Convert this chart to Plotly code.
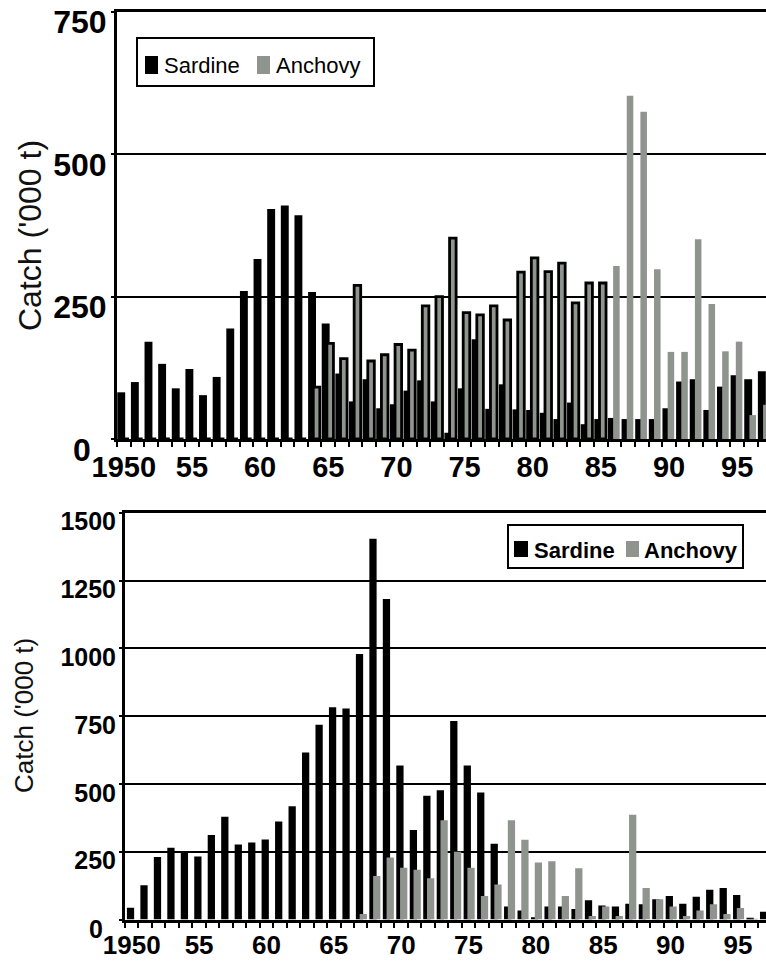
import plotly.graph_objects as go

# ---------------- data (thousand tonnes) ----------------
years = list(range(1950, 1998))

sa_sardine = [82, 100, 171, 132, 89, 123, 77, 109, 194, 260,
              316, 404, 410, 393, 258, 203, 115, 66, 105, 54,
              61, 85, 103, 66, 11, 89, 175, 53, 96, 52,
              51, 46, 35, 64, 26, 35, 37, 35, 35, 35,
              54, 101, 105, 51, 92, 112, 105, 119]
sa_anchovy = [0, 0, 0, 0, 0, 0, 0, 0, 0, 0,
              0, 0, 0, 0, 91, 168, 141, 270, 137, 148,
              166, 156, 234, 250, 353, 222, 218, 234, 209, 293,
              318, 294, 309, 239, 274, 274, 304, 603, 575, 298,
              153, 153, 351, 237, 154, 171, 42, 60]

nam_sardine = [43, 126, 230, 265, 252, 232, 312, 379, 277, 284,
               295, 361, 418, 616, 718, 783, 778, 979, 1404, 1182,
               568, 330, 456, 477, 732, 568, 468, 279, 48, 33,
               8, 48, 48, 39, 71, 52, 48, 58, 56, 75,
               87, 58, 84, 110, 116, 90, 4, 29]
nam_anchovy = [0, 0, 0, 0, 0, 0, 0, 0, 0, 0,
               0, 0, 0, 0, 0, 0, 0, 20, 160, 229,
               191, 183, 152, 366, 250, 191, 87, 129, 366, 294,
               210, 215, 87, 189, 13, 48, 13, 386, 116, 75,
               48, 13, 33, 56, 20, 42, 2, 0]

tick_years = [1950, 1955, 1960, 1965, 1970, 1975, 1980, 1985, 1990, 1995]
tick_text = ["1950", "55", "60", "65", "70", "75", "80", "85", "90", "95"]
top_yticks = [0, 250, 500, 750]
top_ytext = ["", "250", "500", "750"]          # the "0" is set a little further left
bot_yticks = [0, 250, 500, 750, 1000, 1250, 1500]
bot_ytext = ["", "250", "500", "750", "1000", "1250", "1500"]
zero_text = "0"
series_names = ["Sardine", "Anchovy"]
y_title = "Catch ('000 t)"

# ---------------- styling ----------------
W, H = 766, 964
BLACK = "#000000"
GRAY = "#8f948f"
NUM_FONT = "Liberation Sans, Arial, sans-serif"
TXT_FONT = "Liberation Sans, Arial, sans-serif"

# in the scan, top-panel anchovy bars up to 1985 appear black-edged
sa_anch_edge_w = [2.8 if y <= 1985 else 0 for y in years]


def px(x):
    return x / W


def py(y):
    return 1 - y / H


fig = go.Figure()
fig.add_trace(go.Bar(x=years, y=sa_sardine, name=series_names[0], xaxis="x", yaxis="y",
                     offset=-0.48, width=0.58, showlegend=False,
                     marker=dict(color=BLACK, line=dict(width=0))))
fig.add_trace(go.Bar(x=years, y=sa_anchovy, name=series_names[1], xaxis="x", yaxis="y",
                     offset=-0.1, width=0.48, showlegend=False,
                     marker=dict(color=GRAY, line=dict(color=BLACK, width=sa_anch_edge_w))))
fig.add_trace(go.Bar(x=years, y=nam_sardine, name=series_names[0], xaxis="x2", yaxis="y2",
                     offset=-0.36, width=0.54, showlegend=False,
                     marker=dict(color=BLACK, line=dict(width=0))))
fig.add_trace(go.Bar(x=years, y=nam_anchovy, name=series_names[1], xaxis="x2", yaxis="y2",
                     offset=-0.08, width=0.54, showlegend=False,
                     marker=dict(color=GRAY, line=dict(width=0))))


def xaxis_cfg(left_px, anchor, fsize, standoff, ppy):
    return dict(domain=[left_px / W, 1], anchor=anchor, automargin=False,
                range=[1949.5, 1949.5 + (W - left_px) / ppy],
                tickmode="array", tickvals=tick_years, ticktext=tick_text,
                ticks="", showgrid=False, zeroline=False,
                showline=True, linecolor=BLACK, linewidth=3, mirror=True,
                tickfont=dict(family=NUM_FONT, size=fsize, color=BLACK, weight="bold"),
                ticklabelstandoff=standoff,
                minor=dict(ticks="outside", tick0=1949.5, dtick=1, ticklen=5,
                           tickwidth=2, tickcolor=BLACK, showgrid=False))


def yaxis_cfg(dom, anchor, rng, vals, text, fsize, shift):
    return dict(domain=dom, anchor=anchor, range=rng, automargin=False,
                tickmode="array", tickvals=vals, ticktext=text,
                showgrid=True, gridcolor=BLACK, gridwidth=2, zeroline=False,
                showline=True, linecolor=BLACK, linewidth=3,
                ticks="outside", ticklen=3, tickwidth=2, tickcolor=BLACK,
                ticklabelshift=shift, ticklabelstandoff=-2,
                tickfont=dict(family=NUM_FONT, size=fsize, color=BLACK, weight="bold"))


shapes = []
annotations = []


def add_legend(box, sq_y, items, fsize, weight):
    x0, y0, x1, y1 = box
    shapes.append(dict(type="rect", xref="paper", yref="paper",
                       x0=px(x0), x1=px(x1), y0=py(y1), y1=py(y0),
                       line=dict(color=BLACK, width=2), fillcolor="white", layer="above"))
    for (sx0, sx1, tx, name, col) in items:
        shapes.append(dict(type="rect", xref="paper", yref="paper",
                           x0=px(sx0), x1=px(sx1), y0=py(sq_y[1]), y1=py(sq_y[0]),
                           line=dict(width=0), fillcolor=col, layer="above"))
        annotations.append(dict(text=name, xref="paper", yref="paper",
                                x=px(tx), y=py((sq_y[0] + sq_y[1]) / 2 + 1),
                                xanchor="left", yanchor="middle", showarrow=False,
                                font=dict(family=TXT_FONT, size=fsize, color=BLACK,
                                          weight=weight)))


add_legend((137, 38, 374, 86), (56, 74),
           [(145, 158, 162, series_names[0], BLACK), (257, 270, 274, series_names[1], GRAY)],
           22, "normal")
add_legend((508, 525, 743, 568), (541, 557),
           [(514, 528, 532, series_names[0], BLACK), (626, 639, 642, series_names[1], GRAY)],
           22, "bold")

annotations += [
    # zero labels of the value axes, placed as in the scan (left of the other labels)
    dict(text=zero_text, xref="paper", yref="y", x=px(92), y=0, yshift=-11,
         xanchor="right", yanchor="middle", showarrow=False, borderpad=0,
         font=dict(family=NUM_FONT, size=32, color=BLACK, weight="bold")),
    dict(text=zero_text, xref="paper", yref="y2", x=px(104), y=0, yshift=-9,
         xanchor="right", yanchor="middle", showarrow=False, borderpad=0,
         font=dict(family=NUM_FONT, size=25, color=BLACK, weight="bold")),
    dict(text=y_title, xref="paper", yref="paper", x=px(30), y=py(236),
         textangle=-90, showarrow=False, xanchor="center", yanchor="middle",
         font=dict(family=TXT_FONT, size=32, color="#111111")),
    dict(text=y_title, xref="paper", yref="paper", x=px(24), y=py(716),
         textangle=-90, showarrow=False, xanchor="center", yanchor="middle",
         font=dict(family=TXT_FONT, size=26, color="#111111")),
]

fig.update_layout(
    width=W, height=H, margin=dict(l=0, r=0, t=0, b=0),
    paper_bgcolor="white", plot_bgcolor="white",
    barmode="overlay", showlegend=False,
    xaxis=xaxis_cfg(117, "y", 29, 0, 13.63),
    yaxis=yaxis_cfg([py(439), py(12)], "x", [0, 750], top_yticks, top_ytext, 32, 10),
    xaxis2=xaxis_cfg(125, "y2", 26, 0, 13.47),
    yaxis2=yaxis_cfg([py(919.5), py(512.7)], "x2", [0, 1500], bot_yticks, bot_ytext, 25, 9),
    shapes=shapes,
    annotations=annotations,
)

fig.write_html("out.html")
